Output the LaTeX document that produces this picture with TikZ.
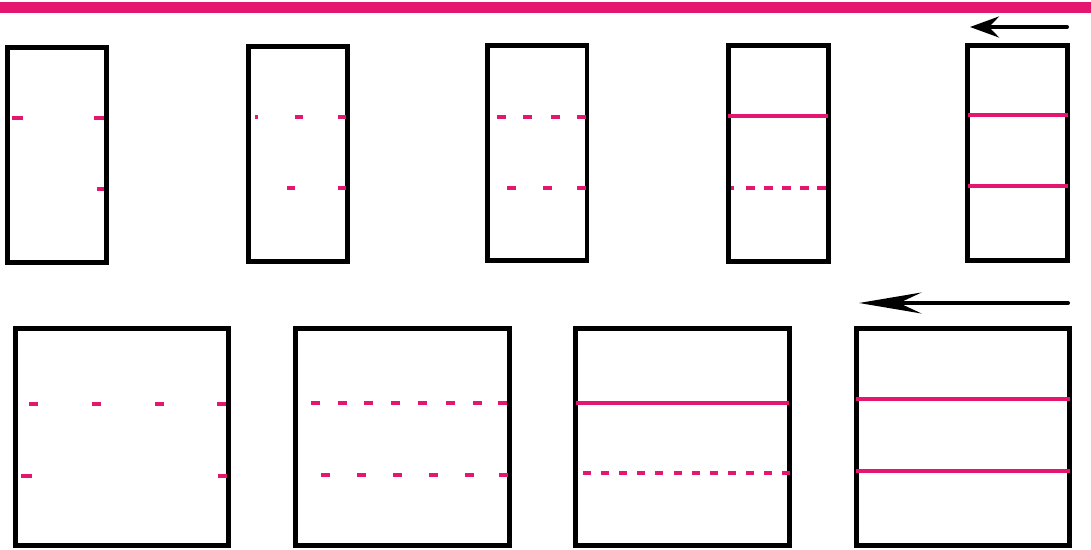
\documentclass[tikz,border=0pt]{standalone}
\usepackage{tikz}
\usetikzlibrary{arrows.meta}
\definecolor{dye}{RGB}{228,22,112}

\begin{document}
\begin{tikzpicture}[
  x=0.02cm, y=-0.02cm,
  cell/.style={draw=black, line width=0.1cm, inner sep=0pt,
    minimum width=2cm, minimum height=4.32cm},
  wide/.style={cell, minimum width=4.28cm, minimum height=4.36cm},
  band/.style={draw=dye, line width=0.095cm},
  fullband/.style={band, shorten <=0.05cm, shorten >=0.05cm},
  flow/.style={line width=0.08cm, line cap=round},
]
  \useasboundingbox (0,0) rectangle (1091,550);

  % Pink strip on top
  \draw[dye, line width=0.22cm] (0,7.5) -- (1091,7.5);

  % Upper row of narrow cells
  \node[cell] (c1) at (57,155) {};
  \node[cell] (c2) at (298,154) {};
  \node[cell] (c3) at (537,153) {};
  \node[cell] (c4) at (778,153.5) {};
  \node[cell] (c5) at (1017.5,153) {};

  % Lower row of wide cells
  \node[wide] (c6) at (122,437) {};
  \node[wide] (c7) at (402.5,437) {};
  \node[wide] (c8) at (682.5,437) {};
  \node[wide] (c9) at (963,437) {};

  % Dye traces, cell 1
  \draw[band] (12,118) -- ++(11,0);
  \draw[band] (94,118) -- ++(10,0);
  \draw[band] (97,189) -- ++(7,0);

  % cell 2
  \draw[band] (255,117) -- ++(2.5,0);
  \foreach \x in {295,338} \draw[band] (\x,117) -- ++(8,0);
  \foreach \x in {287,338} \draw[band] (\x,188) -- ++(8,0);

  % cell 3
  \foreach \x in {497,523,551,577} \draw[band] (\x,117) -- ++(8.5,0);
  \foreach \x in {507,543,577} \draw[band] (\x,188) -- ++(8.5,0);

  % cell 4
  \draw[fullband] (c4.west |- 0,116) -- (c4.east |- 0,116);
  \draw[band] (731,188) -- ++(3,0);
  \foreach \x in {746,764,782,800,817} \draw[band] (\x,188) -- ++(9,0);

  % cell 5
  \draw[fullband] (c5.west |- 0,115) -- (c5.east |- 0,115);
  \draw[fullband] (c5.west |- 0,186) -- (c5.east |- 0,186);

  % cell 6
  \foreach \x in {29,92,155,217} \draw[band] (\x,404) -- ++(9,0);
  \draw[band] (21,476) -- ++(11,0);
  \draw[band] (218,476) -- ++(8.5,0);

  % cell 7
  \foreach \x in {311,338,364,391,418,446,473,498} \draw[band] (\x,403) -- ++(9,0);
  \foreach \x in {321,357,393,429,465,499} \draw[band] (\x,475) -- ++(8.5,0);

  % cell 8
  \draw[fullband] (c8.west |- 0,403) -- (c8.east |- 0,403);
  \foreach \k in {0,...,11} \draw[band] (583+18.1*\k,473) -- ++(8,0);

  % cell 9
  \draw[fullband] (c9.west |- 0,399) -- (c9.east |- 0,399);
  \draw[fullband] (c9.west |- 0,471) -- (c9.east |- 0,471);

  % Flow direction
  \coordinate (t1) at (1067,27);
  \coordinate (t2) at (970,27);
  \coordinate (b1) at (1068,303);
  \coordinate (b2) at (859,303);
  \draw[flow, -{Stealth[length=0.58cm, width=0.42cm, inset=0.2cm]}] (t1) -- (t2);
  \draw[flow, -{Stealth[length=1.25cm, width=0.42cm, inset=0.45cm]}] (b1) -- (b2);
\end{tikzpicture}
\end{document}
